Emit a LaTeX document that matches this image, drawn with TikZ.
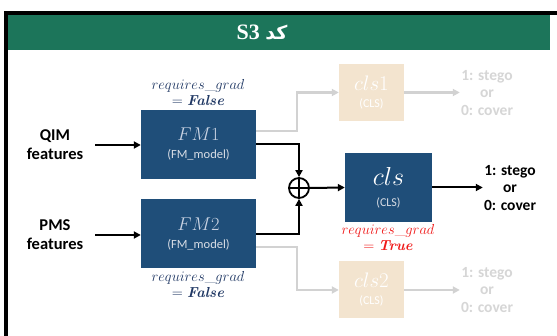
\documentclass[tikz,border=0pt]{standalone}
\usepackage{fix-cm}
\usepackage{fontspec}
\newfontfamily\carlito{Carlito}
\newfontfamily\titlefont{Liberation Serif}
\newfontfamily\arabicfont[Script=Arabic]{DejaVu Sans}
\TeXXeTstate=1
\usetikzlibrary{arrows.meta}
\definecolor{hdr}{HTML}{1C755A}
\definecolor{dblue}{HTML}{1F4E79}
\definecolor{beige}{HTML}{F3E4CF}
\definecolor{fmtxt}{HTML}{C9D3E3}
\definecolor{subtxt}{HTML}{D8DDE5}
\definecolor{rgblue}{HTML}{203864}
\definecolor{rgred}{HTML}{F01818}
\definecolor{lgray}{HTML}{D2D2D2}
\definecolor{ltxt}{HTML}{D6D6D6}
\begin{document}
\begin{tikzpicture}[x=1pt,y=-1pt,
  blk/.style={line width=2pt, draw=black, -{Triangle[length=7pt,width=7pt]}},
  gry/.style={line width=2.2pt, draw=lgray, -{Triangle[length=7pt,width=7pt]}},
  fmbox/.style={fill=dblue, minimum width=115pt, minimum height=69pt, inner sep=0pt, align=center, text=fmtxt, font=\fontsize{18.5}{19}\selectfont},
  clsbox/.style={fill=dblue, minimum width=87pt, minimum height=69pt, inner sep=0pt, align=center, text=white, font=\fontsize{26}{24}\selectfont},
  ghostbox/.style={fill=beige, minimum width=65pt, minimum height=57pt, inner sep=0pt, align=center, text=white, font=\fontsize{21}{20}\selectfont},
  lbl/.style={align=center, font=\carlito\bfseries\fontsize{16.5}{19}\selectfont, inner sep=1pt},
  outtxt/.style={align=center, font=\carlito\bfseries\fontsize{15.5}{17.5}\selectfont, inner sep=1pt},
  rg/.style={align=center, font=\fontsize{14.5}{16}\selectfont, inner sep=0pt},
]
\useasboundingbox (0,0) rectangle (557,336);
\fill[white] (0,0) rectangle (557,336);
\fill[black] (4,11) rectangle (557,15);
\fill[black] (4,11) rectangle (8,336);
\fill[hdr] (8,15) rectangle (550,50);
\node[text=white, font=\titlefont\bfseries\fontsize{22}{24}\selectfont] (title) at (262,32) {S3 {\arabicfont\bfseries\fontsize{19}{24}\selectfont\beginR کد\endR}};

% inputs
\node[lbl] (qim) at (55,145) {QIM\\features};
\node[lbl] (pms) at (55,235) {PMS\\features};

% feature models
\node[fmbox] (fm1) at (198.5,144.5) {$FM1$\\[-1pt]{\carlito\fontsize{12.5}{14}\selectfont\color{subtxt}(FM\_model)}};
\node[fmbox] (fm2) at (198.5,234) {$FM2$\\[-1pt]{\carlito\fontsize{12.5}{14}\selectfont\color{subtxt}(FM\_model)}};

\node[rg, text=rgblue] (rg1) at (198,93) {$requires\_grad$\\$=\textbf{\textit{False}}$};
\node[rg, text=rgblue] (rg2) at (198,284.5) {$requires\_grad$\\$=\textbf{\textit{False}}$};

% combiner
\node[circle, draw=black, line width=1.8pt, minimum size=20pt, inner sep=0pt] (op) at (299,188) {};
\draw[line width=1.8pt] (op.north) -- (op.south) (op.west) -- (op.east);

% classifiers
\node[clsbox] (cls) at (388.5,187.5) {$cls$\\[-3pt]{\carlito\fontsize{12}{14}\selectfont\color{subtxt}(CLS)}};
\node[rg, text=rgred] (rg3) at (388,238) {$requires\_grad$\\$=\textbf{\textit{True}}$};
\node[ghostbox] (cls1) at (371.5,92.5) {$cls1$\\[-3pt]{\carlito\fontsize{12}{14}\selectfont (CLS)}};
\node[ghostbox] (cls2) at (371.5,290) {$cls2$\\[-3pt]{\carlito\fontsize{12}{14}\selectfont (CLS)}};

% outputs
\node[outtxt, text=black] (out) at (510,188) {1: stego\\or\\0: cover};
\node[outtxt, text=ltxt] (out1) at (487,93) {1: stego\\or\\0: cover};
\node[outtxt, text=ltxt] (out2) at (487,290) {1: stego\\or\\0: cover};

% junction coordinates
\coordinate (j1) at (297,92.5);
\coordinate (j2) at (297,290);

% connectors
\draw[blk] ([xshift=11pt]qim.east) -- (qim.east -| fm1.west);
\draw[blk] ([xshift=11pt]pms.east) -- (pms.east -| fm2.west);
\draw[gry] ([yshift=13.5pt]fm1.east) -| (j1) -- (cls1.west);
\draw[gry] ([yshift=-13pt]fm2.east) -| (j2) -- (cls2.west);
\draw[blk] (fm1.east) -| (op.north);
\draw[blk] (fm2.east) -| (op.south);
\draw[blk] (op.east) -- (cls.west);
\draw[blk] (cls.east) -- (cls.east -| out.west);
\draw[gry] (cls1.east) -- (cls1.east -| out1.west);
\draw[gry] (cls2.east) -- (cls2.east -| out2.west);
\end{tikzpicture}
\end{document}
